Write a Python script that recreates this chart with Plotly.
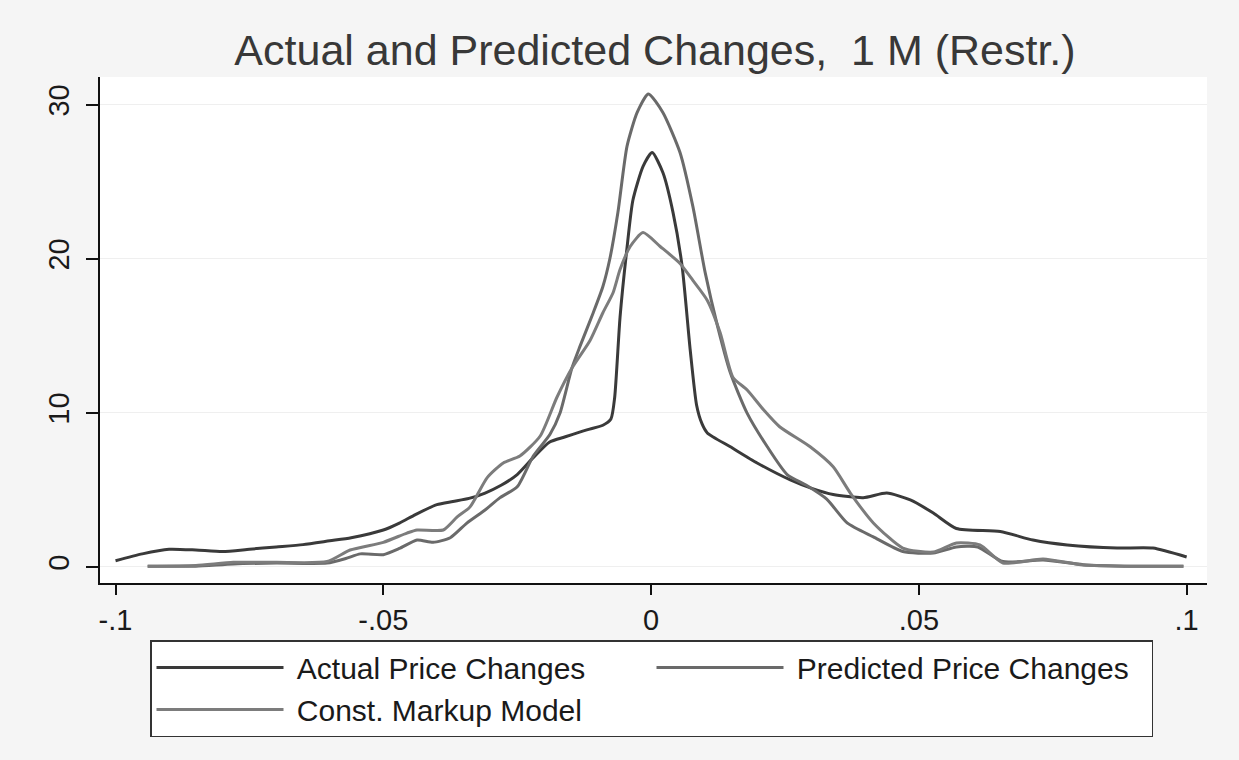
import plotly.graph_objects as go

# ---- data ----
actual_x = [-0.100, -0.095, -0.090, -0.085, -0.080, -0.075, -0.070, -0.065, -0.060, -0.056,
            -0.050, -0.047, -0.044, -0.040, -0.037, -0.034, -0.031, -0.028, -0.025, -0.022,
            -0.019, -0.016, -0.012, -0.009, -0.0075, -0.0068, -0.0058, -0.0045, -0.0034, -0.0015,
            0.0002, 0.0022, 0.0041, 0.0058, 0.0073, 0.0085, 0.0095, 0.0105, 0.0148, 0.0198,
            0.026, 0.030, 0.034, 0.0396, 0.044, 0.0484, 0.0527, 0.057, 0.0652, 0.0713,
            0.0777, 0.087, 0.0937, 0.100]
actual_y = [0.40, 0.85, 1.15, 1.10, 1.00, 1.15, 1.30, 1.45, 1.70, 1.90,
            2.40, 2.85, 3.40, 4.05, 4.25, 4.45, 4.80, 5.30, 6.00, 7.10,
            8.10, 8.45, 8.90, 9.20, 9.60, 11.0, 16.2, 20.7, 23.8, 26.0,
            26.9, 25.6, 23.0, 19.5, 14.1, 10.5, 9.3, 8.7, 7.8, 6.75,
            5.65, 5.1, 4.7, 4.5, 4.8, 4.35, 3.5, 2.5, 2.3, 1.75,
            1.43, 1.23, 1.23, 0.65]

pred_x = [-0.094, -0.085, -0.078, -0.070, -0.0605, -0.057, -0.0543, -0.050, -0.047, -0.0437,
          -0.0407, -0.0375, -0.0344, -0.031, -0.0282, -0.025, -0.022, -0.0189, -0.017, -0.0148,
          -0.0133, -0.0108, -0.009, -0.0077, -0.0062, -0.0045, -0.0026, -0.0005, 0.0022, 0.0054,
          0.0078, 0.0101, 0.0125, 0.0148, 0.0179, 0.0217, 0.0254, 0.029, 0.0328, 0.0366,
          0.0415, 0.047, 0.0527, 0.057, 0.061, 0.0657, 0.0732, 0.0807, 0.090, 0.0994]
pred_y = [0.05, 0.05, 0.20, 0.25, 0.25, 0.55, 0.85, 0.80, 1.20, 1.75,
          1.60, 1.90, 2.85, 3.70, 4.50, 5.20, 7.20, 8.60, 10.0, 12.9,
          14.3, 16.5, 18.2, 20.0, 23.0, 27.3, 29.5, 30.7, 29.5, 26.9,
          23.4, 19.1, 15.5, 12.6, 10.0, 7.8, 6.0, 5.3, 4.4, 2.86,
          1.95, 1.0, 0.9, 1.3, 1.3, 0.35, 0.45, 0.15, 0.05, 0.05]

const_x = [-0.094, -0.085, -0.078, -0.070, -0.0605, -0.0562, -0.050, -0.0456, -0.0437, -0.0388,
           -0.0362, -0.0338, -0.0306, -0.0276, -0.0245, -0.0207, -0.0176, -0.0148, -0.0114, -0.009,
           -0.0071, -0.0058, -0.0039, -0.0015, 0.0017, 0.0054, 0.0078, 0.0105, 0.0129, 0.0153,
           0.0179, 0.021, 0.024, 0.0297, 0.034, 0.0372, 0.0415, 0.047, 0.0527, 0.057,
           0.0614, 0.0657, 0.0732, 0.0807, 0.090, 0.0994]
const_y = [0.05, 0.10, 0.30, 0.30, 0.35, 1.10, 1.60, 2.20, 2.40, 2.40,
           3.25, 3.90, 5.80, 6.75, 7.20, 8.50, 11.0, 12.9, 14.7, 16.5,
           17.8, 19.3, 20.8, 21.7, 20.8, 19.7, 18.6, 17.3, 15.2, 12.3,
           11.5, 10.2, 9.1, 7.8, 6.5, 4.8, 2.86, 1.23, 0.97, 1.56,
           1.43, 0.26, 0.52, 0.13, 0.05, 0.05]

x_tickvals = [-0.1, -0.05, 0, 0.05, 0.1]
x_ticktext = ["-.1", "-.05", "0", ".05", ".1"]
y_tickvals = [0, 10, 20, 30]
y_ticktext = ["0", "10", "20", "30"]

series = [
    ("Actual Price Changes", actual_x, actual_y, "#3a3a3a"),
    ("Predicted Price Changes", pred_x, pred_y, "#6a6a6a"),
    ("Const. Markup Model", const_x, const_y, "#7c7c7c"),
]

FONT = "Liberation Sans, Arial, sans-serif"

fig = go.Figure()
for name, xs, ys, col in series:
    fig.add_trace(go.Scatter(
        x=xs, y=ys, name="\u00a0" + name, mode="lines",
        line=dict(color=col, width=3, shape="spline", smoothing=0.6),
    ))

fig.update_layout(
    width=1239, height=760,
    margin=dict(l=100, r=32, t=77, b=177),
    paper_bgcolor="#f5f5f5",
    plot_bgcolor="#ffffff",
    font=dict(family=FONT, color="#1a1a1a", size=29),
    title=dict(
        text="Actual and Predicted Changes,\u00a0\u00a01 M (Restr.)",
        x=655 / 1239, xanchor="center", y=1 - 50 / 760, yanchor="middle",
        font=dict(family=FONT, size=43, color="#383838"),
    ),
    showlegend=True,
    legend=dict(
        orientation="h",
        x=(150 - 100) / 1107, xanchor="left",
        y=(583 - 640) / 506, yanchor="top",
        bgcolor="#ffffff", bordercolor="#333333", borderwidth=1.5,
        font=dict(family=FONT, size=30, color="#1a1a1a"),
        itemwidth=127, entrywidth=358, entrywidthmode="pixels",
        traceorder="normal",
    ),
)

fig.update_xaxes(
    range=[-0.1029, 0.1038],
    tickvals=x_tickvals, ticktext=x_ticktext,
    showline=True, linecolor="#111111", linewidth=1.5,
    ticks="outside", ticklen=10, tickwidth=1.5, tickcolor="#111111",
    showgrid=False, zeroline=False,
    tickfont=dict(family=FONT, size=29, color="#1a1a1a"),
)
fig.update_yaxes(
    range=[-1.04, 31.8],
    tickvals=y_tickvals, ticktext=y_ticktext, tickangle=-90,
    showline=True, linecolor="#111111", linewidth=1.5,
    ticks="outside", ticklen=12, tickwidth=1.5, tickcolor="#111111",
    ticklabelstandoff=6,
    showgrid=True, gridcolor="#efefef", gridwidth=1,
    zeroline=False,
    tickfont=dict(family=FONT, size=29, color="#1a1a1a"),
)

fig.write_html("out.html")
